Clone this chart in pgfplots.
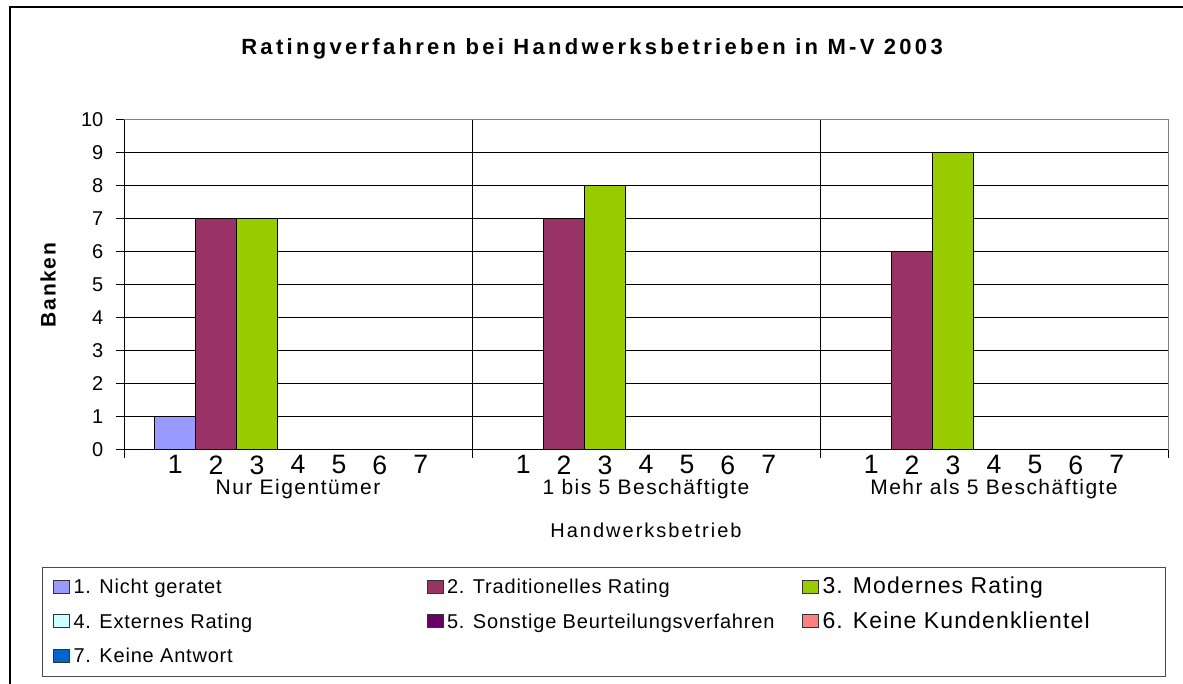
\documentclass[border=0pt]{standalone}
\usepackage{pgfplots}
\pgfplotsset{compat=1.18}
\usepackage{fontspec}
\setmainfont{Liberation Sans}

\definecolor{s1}{HTML}{9999FF}
\definecolor{s2}{HTML}{993366}
\definecolor{s3}{HTML}{99CC00}
\definecolor{s4}{HTML}{CCFFFF}
\definecolor{s5}{HTML}{660066}
\definecolor{s6}{HTML}{FF8080}
\definecolor{s7}{HTML}{0066CC}

\newcommand\fs[2]{\fontsize{#1}{#2}\selectfont}

\pgfplotsset{
  mybar/.style={ybar, bar width=1, bar shift=0pt, fill=#1, draw=black, line width=0.5pt,
    legend image code/.code={
      \draw[fill=#1, draw=black!80, line width=0.5pt] (0pt,-2.65pt) rectangle (8pt,3.85pt);
      \path[draw=none, fill=none] (0pt,0pt) -- (10pt,0pt);}},
}

\begin{document}
\begin{tikzpicture}
\useasboundingbox (0,0) rectangle (591.5pt,342pt);
% outer frame (cut at right and bottom)
\draw[line width=1pt] (5pt,0) -- (5pt,338.5pt) -- (591.5pt,338.5pt);
% legend frame
\draw[black!70, line width=0.5pt] (21pt,3.5pt) rectangle (582.5pt,58pt);
\begin{axis}[
  at={(62pt,117pt)}, anchor=south west,
  scale only axis, width=522pt, height=165pt,
  clip=false,
  xmin=0, xmax=25.5, ymin=0, ymax=10,
  ytick={0,...,10},
  xtick={0,8.5,17,25.5}, xticklabels={,,,},
  extra x ticks={1.25,2.25,3.25,4.25,5.25,6.25,7.25,
                 9.75,10.75,11.75,12.75,13.75,14.75,15.75,
                 18.25,19.25,20.25,21.25,22.25,23.25,24.25},
  extra x tick labels={1,2,3,4,5,6,7,1,2,3,4,5,6,7,1,2,3,4,5,6,7},
  extra x tick style={grid=none, tick style={draw=none},
    tick label style={font=\fs{13.3pt}{14pt}, yshift=4.5pt}},
  xmajorgrids, ymajorgrids,
  grid style={black, line width=0.5pt},
  axis line style={draw=gray, line width=0.5pt},
  tick align=outside, xtick pos=bottom, ytick pos=left,
  major tick length=3.8pt,
  tick style={black, line width=0.5pt},
  yticklabel style={font=\fs{10pt}{11pt}, xshift=-3pt},
  /pgf/number format/assume math mode=true,
  title={\addfontfeatures{LetterSpace=15}Ratingverfahren bei Handwerksbetrieben in M-V 2003},
  title style={font=\bfseries\fs{11pt}{13pt}, at={(axis description cs:0.4483,1)}, anchor=base, yshift=26.5pt},
  xlabel={\addfontfeatures{LetterSpace=10}Handwerksbetrieb},
  xlabel style={font=\fs{10pt}{12pt}, at={(axis description cs:0.5,0)}, anchor=base, yshift=-44pt},
  ylabel={\addfontfeatures{LetterSpace=8}Banken},
  ylabel style={font=\bfseries\fs{10.5pt}{12pt}, at={(axis description cs:-0.0728,0.5)}, anchor=center},
  legend style={at={(axis description cs:-0.0680,-0.3848)}, anchor=north west,
    draw=none, fill=none, inner sep=0pt, outer sep=0pt, font=\fs{10pt}{12pt},
    legend columns=3, row sep=6.25pt, column sep=0pt,
    /tikz/every even column/.append style={column sep=0pt},
    /tikz/every odd column/.append style={column sep=0pt},
    nodes={inner sep=0pt, text height=8.5pt, text depth=2.5pt, anchor=west}},
  legend cell align=left,
]
\addplot[mybar=s1] coordinates {(1.25,1) (9.75,0) (18.25,0)};
\addlegendentry{\makebox[176.5pt][l]{\addfontfeatures{LetterSpace=4}1. Nicht geratet}}
\addplot[mybar=s2] coordinates {(2.25,7) (10.75,7) (19.25,6)};
\addlegendentry{\makebox[177.5pt][l]{\addfontfeatures{LetterSpace=4}2. Traditionelles Rating}}
\addplot[mybar=s3] coordinates {(3.25,7) (11.75,8) (20.25,9)};
\addlegendentry{\fs{11.5pt}{13pt}\addfontfeatures{LetterSpace=5}3. Modernes Rating}
\addplot[mybar=s4] coordinates {(4.25,0) (12.75,0) (21.25,0)};
\addlegendentry{\makebox[176.5pt][l]{\addfontfeatures{LetterSpace=4}4. Externes Rating}}
\addplot[mybar=s5] coordinates {(5.25,0) (13.75,0) (22.25,0)};
\addlegendentry{\makebox[177.5pt][l]{\addfontfeatures{LetterSpace=4}5. Sonstige Beurteilungsverfahren}}
\addplot[mybar=s6] coordinates {(6.25,0) (14.75,0) (23.25,0)};
\addlegendentry{\fs{11.5pt}{13pt}\addfontfeatures{LetterSpace=5}6. Keine Kundenklientel}
\addplot[mybar=s7] coordinates {(7.25,0) (15.75,0) (24.25,0)};
\addlegendentry{\makebox[176.5pt][l]{\addfontfeatures{LetterSpace=4}7. Keine Antwort}}

\draw[black, line width=0.5pt] (rel axis cs:0,1) -- (rel axis cs:0,0) -- (rel axis cs:1,0);

\node[font=\fs{10.5pt}{12pt}, anchor=base, yshift=-22.5pt] at (axis cs:4.25,0) {\addfontfeatures{LetterSpace=7}Nur Eigentümer};
\node[font=\fs{10.5pt}{12pt}, anchor=base, yshift=-22.5pt] at (axis cs:12.75,0) {\addfontfeatures{LetterSpace=7}1 bis 5 Beschäftigte};
\node[font=\fs{10.5pt}{12pt}, anchor=base, yshift=-22.5pt] at (axis cs:21.25,0) {\addfontfeatures{LetterSpace=7}Mehr als 5 Beschäftigte};
\end{axis}
\end{tikzpicture}
\end{document}
